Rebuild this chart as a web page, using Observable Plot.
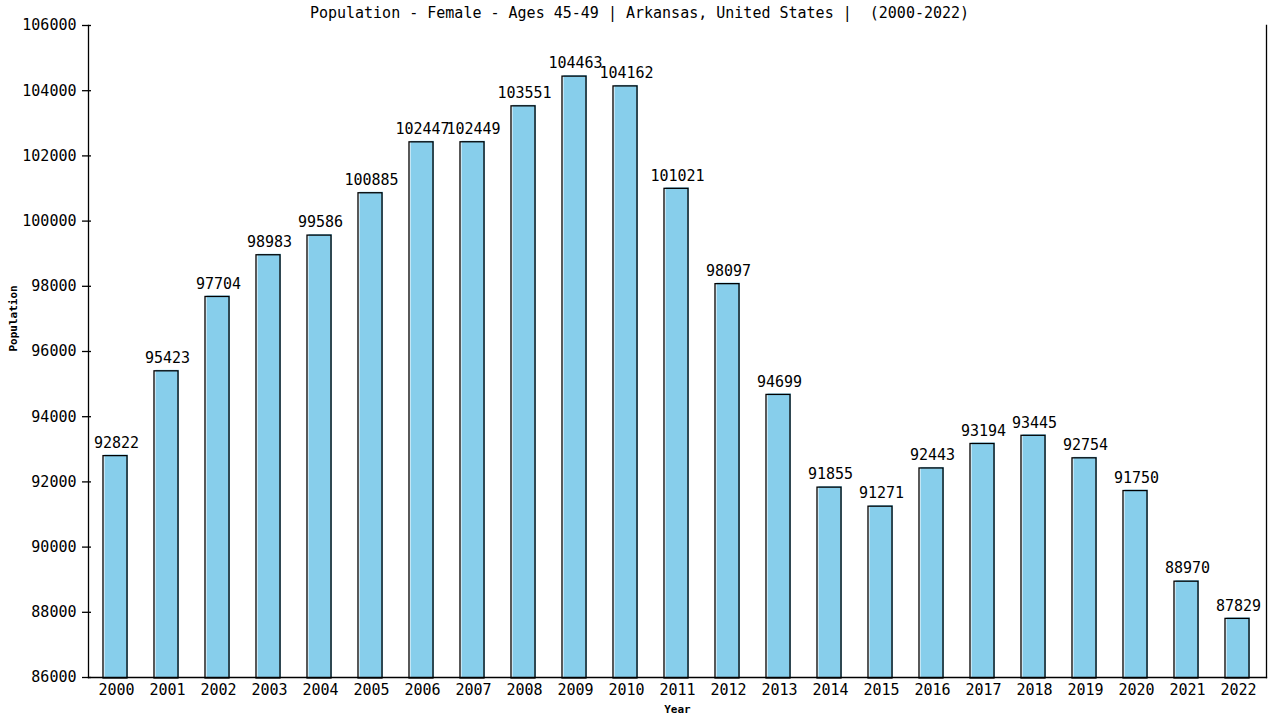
<!DOCTYPE html>
<html><head><meta charset="utf-8">
<script src="https://cdn.jsdelivr.net/npm/d3@7"></script>
<script src="https://cdn.jsdelivr.net/npm/@observablehq/plot@0.6"></script>
<style>
body{margin:0;background:#fff;}
svg{font-family:"DejaVu Sans Mono",monospace;}
</style>
</head><body><div id="chart"></div>
<script>
const years = ["2000","2001","2002","2003","2004","2005","2006","2007","2008","2009","2010","2011","2012","2013","2014","2015","2016","2017","2018","2019","2020","2021","2022"];
const population = [92822,95423,97704,98983,99586,100885,102447,102449,103551,104463,104162,101021,98097,94699,91855,91271,92443,93194,93445,92754,91750,88970,87829];
const yTicks = [86000,88000,90000,92000,94000,96000,98000,100000,102000,104000,106000];
const titleText = "Population - Female - Ages 45-49 | Arkansas, United States |  (2000-2022)";

const data = years.map((y, i) => ({year: y, value: population[i]}));
const base = yTicks[0];

const chart = Plot.plot({
  width: 1280, height: 720,
  marginTop: 25, marginBottom: 43, marginLeft: 88, marginRight: 14,
  style: {fontFamily: "'DejaVu Sans Mono', monospace", fontSize: "15px", background: "#fff", color: "#000"},
  x: {domain: years, paddingInner: 0.53, paddingOuter: 0.265, label: null},
  y: {domain: [yTicks[0], yTicks[yTicks.length-1]], label: null},
  marks: [
    Plot.barY(data, {x: "year", y1: base, y2: "value", fill: "#87CEEB", insetLeft: 0.5, insetRight: 0}),
    Plot.barY(data, {x: "year", y1: base, y2: "value", fill: "none", stroke: "#000", strokeWidth: 1.3, dx: -1, dy: 1}),
    Plot.text(data, {x: "year", y: "value", text: d => String(d.value), dy: -12, fontSize: 15, fill: "#000"}),
    Plot.frame({anchor: "left", stroke: "#000", strokeWidth: 1.3}),
    Plot.frame({anchor: "right", stroke: "#000", strokeWidth: 1.3}),
    Plot.frame({anchor: "bottom", stroke: "#000", strokeWidth: 1.3}),
    Plot.axisY({ticks: yTicks, tickSize: 9, dx: 3, tickPadding: 6, tickFormat: d => String(d), label: null, fontSize: 15, strokeWidth: 1.3}),
    Plot.axisX({tickSize: 0, tickPadding: 7, label: null, fontSize: 15}),
    Plot.text([titleText], {frameAnchor: "top", dx: -38, dy: -12, lineAnchor: "middle", fontSize: 15, fill: "#000"}),
    Plot.text(["Year"], {frameAnchor: "bottom", dy: 35, fontSize: 11, fontWeight: "bold", fill: "#000"}),
    Plot.text(["Population"], {frameAnchor: "left", dx: -75, rotate: -90, fontSize: 11, fontWeight: "bold", fill: "#000"})
  ]
});
document.getElementById("chart").appendChild(chart);
</script>
</body></html>
